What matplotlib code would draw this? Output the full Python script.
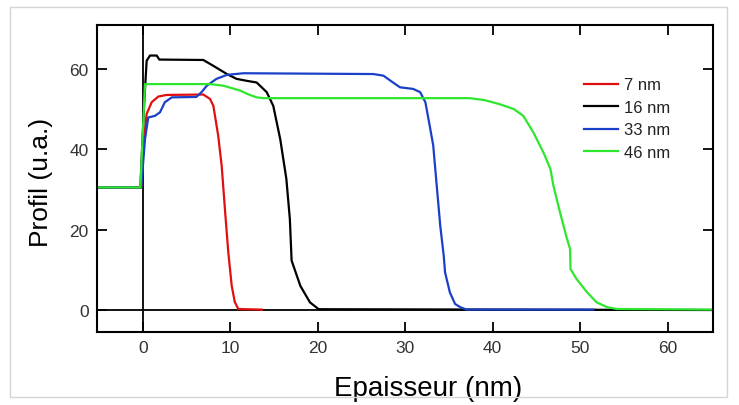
import matplotlib
matplotlib.use("Agg")
from matplotlib import pyplot as plt
from matplotlib.patches import Rectangle

plt.rcParams['font.family'] = ['Liberation Sans', 'DejaVu Sans']

# Depth profiles
x_7nm = [-5.3, -0.2, 0.1, 0.42, 1.0, 1.75, 2.7, 6.9, 7.67, 8.05, 8.6, 9.0,
         9.4, 9.76, 10.15, 10.5, 10.9, 13.6]
y_7nm = [30.5, 30.5, 42, 48.8, 51.7, 53.1, 53.5, 53.6, 52.5, 50.8, 43.4, 35.9,
         24.3, 14.3, 6.0, 2.0, 0.25, 0.1]

x_16nm = [-5.3, -0.3, 0.1, 0.42, 0.8, 1.57, 1.87, 6.9, 8.0, 9.6, 10.7, 11.9,
          13.0, 14.15, 14.9, 15.7, 16.4, 16.8, 17.0, 18.0, 19.1, 20.1, 65.2]
y_16nm = [30.5, 30.5, 50, 62, 63.3, 63.3, 62.3, 62.2, 60.8, 58.7, 57.5, 57.0,
          56.6, 54.2, 50.8, 42.5, 32.6, 22.6, 12.3, 6.0, 1.9, 0.2, 0]

x_33nm = [-5.3, -0.2, 0.23, 0.6, 1.37, 1.95, 2.5, 3.3, 6.1, 6.7, 7.3, 8.4, 9.6,
          11.5, 26.35, 27.5, 28.6, 29.4, 30.9, 31.7, 32.3, 32.8, 33.2, 33.6,
          34.0, 34.4, 34.55, 35.1, 35.7, 36.3, 37.0, 51.5]
y_33nm = [30.5, 30.5, 42.5, 47.9, 48.3, 49.2, 51.7, 52.9, 53.0, 54.2, 55.8,
          57.5, 58.5, 58.9, 58.7, 58.3, 56.6, 55.4, 55.0, 54.2, 51.7, 45.8,
          40.9, 30.9, 21.0, 13.5, 9.4, 4.4, 1.5, 0.7, 0.1, 0.1]

x_46nm = [-5.3, -0.3, 0.0, 0.23, 7.67, 9.2, 11.1, 12.0, 13.0, 13.8, 37.4, 39.1,
          40.8, 42.4, 43.5, 44.65, 45.8, 46.6, 46.95, 47.7, 48.5, 48.85, 48.9,
          49.6, 50.8, 51.9, 53.1, 54.2, 65.2]
y_46nm = [30.5, 30.5, 45, 56.2, 56.2, 55.8, 54.6, 53.7, 52.9, 52.7, 52.7, 52.2,
          51.2, 50.0, 48.3, 44.2, 39.2, 35.1, 30.9, 24.3, 17.7, 15.2, 10.2,
          7.7, 4.4, 1.9, 0.7, 0.25, 0.1]

labels = ['7 nm', '16 nm', '33 nm', '46 nm']
colors = ['#e01010', '#000000', '#1a3fc8', '#2ee62e']
x_ticks = [0, 10, 20, 30, 40, 50, 60]
y_ticks = [0, 20, 40, 60]

W, H = 739, 406
fig = plt.figure(figsize=(W / 100, H / 100), dpi=100)
ax = fig.add_axes([97 / W, 1 - 333 / H, (713 - 97) / W, (333 - 26) / H])

# zero lines
ax.axhline(0, color='k', lw=1.3, zorder=1)
ax.axvline(0, color='k', lw=1.3, zorder=1)

series = [(x_7nm, y_7nm), (x_16nm, y_16nm), (x_33nm, y_33nm), (x_46nm, y_46nm)]
for (xs, ys), lab, col in zip(series, labels, colors):
    ax.plot(xs, ys, color=col, lw=1.6, label=lab, zorder=2)

ax.set_xlim(-5.26, 65.2)
ax.set_ylim(-5.47, 70.9)
ax.set_xticks(x_ticks)
ax.set_yticks(y_ticks)
ax.tick_params(direction='in', length=7.5, width=1.3, top=True, right=True,
               labelsize=12.5, labelcolor='#333333', pad=6)
for sp in ax.spines.values():
    sp.set_linewidth(1.5)

ax.set_xlabel('Epaisseur (nm)', fontsize=20)
ax.xaxis.set_label_coords((428 - 97) / 616, -0.14)
ax.set_ylabel('Profil (u.a.)', fontsize=19)
ax.yaxis.set_label_coords(-0.072, 0.492)

ax.legend(loc='upper left', bbox_to_anchor=(576 / W, 1 - 70 / H),
          bbox_transform=fig.transFigure, frameon=False, borderpad=0,
          handlelength=2.0, handletextpad=0.4, labelspacing=0.45,
          fontsize=12, labelcolor='#222222')

# light frame around the picture
fig.add_artist(Rectangle((10 / W, 1 - 398 / H), (727 - 10) / W, (398 - 8) / H,
                         transform=fig.transFigure, fill=False,
                         edgecolor='#d4d4d4', lw=1))

fig.savefig('out.png', dpi=100)
